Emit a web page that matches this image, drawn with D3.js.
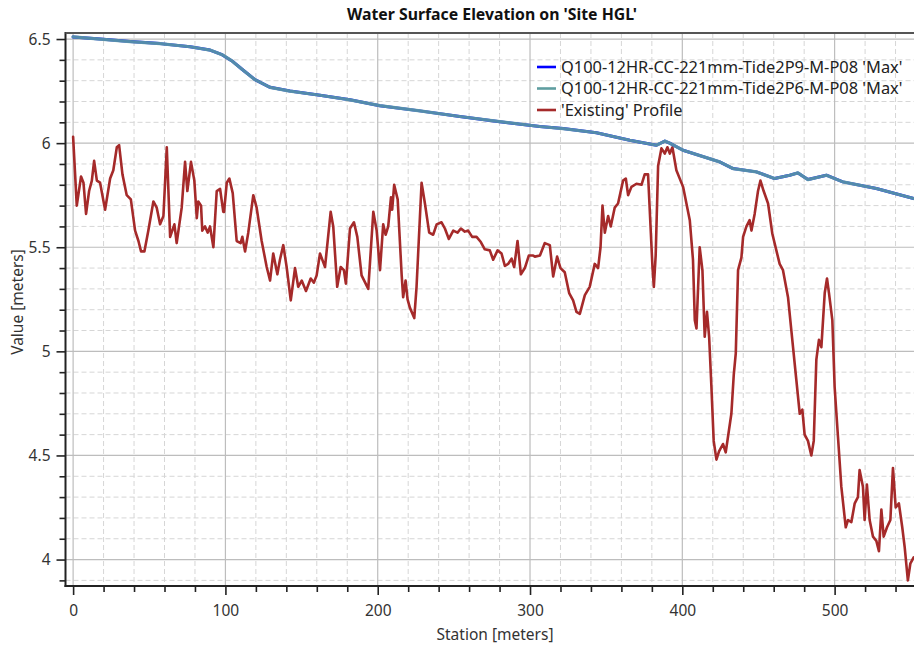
<!DOCTYPE html>
<html>
<head>
<meta charset="utf-8">
<script src="https://cdn.jsdelivr.net/npm/d3@7/dist/d3.min.js"></script>
<style>
  html, body { margin: 0; padding: 0; background: #fff; }
  svg { display: block; font-family: "Noto Sans", "Open Sans", sans-serif; }
</style>
</head>
<body>
<svg id="chart" width="914" height="648"></svg>
<script>
// ---- data -------------------------------------------------------------
const chartTitle = "Water Surface Elevation on 'Site HGL'";
const xTitle = "Station [meters]";
const yTitle = "Value [meters]";
const seriesNames = [
  "Q100-12HR-CC-221mm-Tide2P9-M-P08 'Max'",
  "Q100-12HR-CC-221mm-Tide2P6-M-P08 'Max'",
  "'Existing' Profile"
];
const seriesColors = ["#0000ff", "#5f9ea0", "#a52a2a"];

const xTickValues = [0, 100, 200, 300, 400, 500];
const yTickValues = [4, 4.5, 5, 5.5, 6, 6.5];

// Hydraulic grade line (max) along the reach
const hglStation = [0, 17.7, 37.4, 57.1, 76.8, 89.9, 97.8, 104.3, 110.9, 119.4, 129.3,
  142.4, 162.1, 181.8, 201.4, 227.7, 253.9, 280.2, 306.4, 321.7, 343.6, 365.5, 383.0,
  388.5, 391.7, 400.5, 424.5, 433.3, 448.6, 460.6, 470.5, 475.9, 482.5, 494.6, 505.4,
  527.4, 551.9];
const p9Values = [6.51, 6.50, 6.488, 6.478, 6.463, 6.447, 6.425, 6.395, 6.355, 6.305, 6.268,
  6.25, 6.23, 6.208, 6.18, 6.155, 6.128, 6.103, 6.08, 6.07, 6.05, 6.014, 5.99,
  6.01, 6.00, 5.966, 5.91, 5.878, 5.862, 5.83, 5.846, 5.857, 5.825, 5.846, 5.814,
  5.782, 5.734];
// the P6 run sits on top of the P9 run at this scale
const p6Values = p9Values.slice();

// Existing ground / surface profile
const existStation = [0, 2.4, 5.2, 6.8, 8.5, 10.5, 12.3, 13.8, 15.6, 17.7, 21.0, 24.3,
  26.4, 28.7, 30.2, 32.4, 35.2, 37.9, 40.7, 42.9, 44.6, 46.8, 49.4, 52.7, 54.9, 57.1,
  59.3, 61.5, 63.7, 66.5, 68.0, 71.3, 73.5, 75.0, 77.4, 79.6, 81.2, 82.2, 84.0, 84.8,
  86.6, 88.4, 89.9, 92.1, 94.3, 96.5, 98.6, 99.1, 100.9, 102.6, 104.8, 107.4, 110.0,
  111.1, 112.9, 115.0, 118.3, 120.5, 123.8, 127.1, 129.3, 131.4, 134.1, 135.8, 138.0,
  140.2, 142.9, 145.7, 147.8, 150.1, 152.9, 156.0, 158.1, 159.9, 162.1, 165.4, 169.1,
  170.8, 173.4, 175.7, 177.8, 179.1, 181.8, 184.4, 186.6, 189.4, 193.8, 197.1, 199.3,
  201.5, 203.6, 205.2, 206.9, 208.7, 209.5, 210.8, 213.1, 215.7, 216.7, 218.3, 219.6,
  221.1, 224.0, 225.5, 228.8, 231.0, 233.8, 236.4, 238.7, 241.9, 244.1, 246.7, 249.6,
  252.4, 254.6, 257.2, 259.4, 262.0, 264.9, 267.7, 270.3, 273.6, 275.8, 278.7, 281.3,
  283.5, 285.6, 287.9, 289.6, 291.8, 294.0, 296.6, 299.2, 302.1, 303.2, 306.5, 309.7,
  313.0, 315.2, 317.8, 320.0, 322.8, 325.7, 328.3, 330.5, 332.7, 336.0, 339.2, 342.5,
  344.7, 346.3, 347.6, 349.1, 351.3, 353.0, 355.6, 357.8, 361.1, 362.9, 364.4, 366.6,
  369.9, 373.2, 375.3, 377.5, 380.4, 381.3, 382.5, 384.1, 386.3, 388.5, 390.2, 391.8,
  393.5, 396.1, 400.5, 404.9, 407.0, 408.2, 409.3, 411.4, 413.2, 414.7, 416.2, 417.6,
  419.1, 420.6, 422.4, 424.1, 426.7, 428.5, 430.0, 432.2, 433.8, 435.1, 436.6, 438.8,
  439.9, 442.1, 444.2, 445.4, 447.5, 449.7, 451.3, 453.4, 456.3, 459.1, 463.9, 466.1,
  469.4, 471.6, 474.9, 477.1, 478.8, 480.3, 482.5, 484.7, 486.3, 488.0, 489.7, 491.3,
  493.5, 495.0, 496.3, 498.5, 500.0, 502.2, 504.4, 507.3, 508.8, 511.0, 513.2, 515.3,
  516.4, 518.6, 519.7, 521.2, 523.0, 525.2, 527.4, 529.1, 530.7, 532.2, 534.4, 536.6,
  538.3, 540.1, 542.2, 544.4, 546.0, 548.1, 549.7, 551.9];
const existValue = [6.03, 5.70, 5.84, 5.81, 5.66, 5.77, 5.82, 5.915, 5.82, 5.81, 5.68, 5.83,
  5.87, 5.98, 5.99, 5.85, 5.75, 5.73, 5.58, 5.53, 5.48, 5.48, 5.58, 5.72, 5.69, 5.61,
  5.65, 5.98, 5.55, 5.61, 5.52, 5.69, 5.91, 5.77, 5.91, 5.82, 5.64, 5.72, 5.70, 5.58,
  5.60, 5.57, 5.60, 5.50, 5.77, 5.78, 5.67, 5.67, 5.81, 5.83, 5.76, 5.53, 5.52,
  5.55, 5.48, 5.57, 5.75, 5.69, 5.53, 5.405, 5.34, 5.47, 5.37, 5.44, 5.51,
  5.405, 5.245, 5.40, 5.31, 5.34, 5.29, 5.35, 5.33, 5.365, 5.47, 5.405, 5.67,
  5.60, 5.31, 5.405, 5.39, 5.325, 5.59, 5.62, 5.55, 5.365, 5.30, 5.67, 5.58,
  5.39, 5.61, 5.56, 5.60, 5.74, 5.68, 5.80, 5.73, 5.37, 5.26, 5.34, 5.25,
  5.21, 5.16, 5.31, 5.81, 5.71, 5.57, 5.56, 5.61, 5.62, 5.59, 5.54, 5.58,
  5.57, 5.59, 5.575, 5.58, 5.55, 5.55, 5.525, 5.49, 5.485, 5.44, 5.485, 5.47,
  5.41, 5.42, 5.445, 5.405, 5.53, 5.37, 5.40, 5.46, 5.46, 5.455, 5.46, 5.52,
  5.51, 5.36, 5.455, 5.40, 5.38, 5.28, 5.245, 5.19, 5.18, 5.27, 5.31, 5.42,
  5.40, 5.50, 5.70, 5.57, 5.65, 5.60, 5.69, 5.71, 5.82, 5.83, 5.75, 5.79,
  5.805, 5.80, 5.85, 5.85, 5.405, 5.31, 5.46, 5.89, 5.975, 5.95, 5.98, 5.95,
  5.98, 5.87, 5.79, 5.63, 5.44, 5.15, 5.11, 5.50, 5.39, 5.07, 5.19, 5.07,
  4.83, 4.57, 4.48, 4.52, 4.555, 4.515, 4.59, 4.70, 4.89, 4.99, 5.39, 5.45,
  5.55, 5.60, 5.63, 5.58, 5.66, 5.77, 5.82, 5.77, 5.71, 5.565, 5.42, 5.39,
  5.26, 5.10, 4.86, 4.70, 4.72, 4.60, 4.57, 4.50, 4.57, 4.96, 5.055, 5.02,
  5.28, 5.35, 5.28, 5.15, 4.83, 4.59, 4.35, 4.155, 4.19, 4.18, 4.27, 4.30,
  4.43, 4.35, 4.19, 4.36, 4.19, 4.11, 4.09, 4.04, 4.24, 4.11, 4.155, 4.19,
  4.44, 4.25, 4.27, 4.155, 4.06, 3.90, 3.98, 4.01];

// ---- layout -----------------------------------------------------------
const svg = d3.select("#chart");
const W = 914, H = 648;
const plot = { left: 65.5, top: 33, bottom: 586, right: 926 };

const x = d3.scaleLinear().domain([-5, 560]).range([plot.left, plot.right]);
const y = d3.scaleLinear().domain([3.873, 6.529]).range([plot.bottom, plot.top]);

svg.append("rect").attr("width", W).attr("height", H).attr("fill", "#fff");

svg.append("defs").append("clipPath").attr("id", "plotClip")
  .append("rect")
  .attr("x", plot.left).attr("y", plot.top)
  .attr("width", plot.right - plot.left).attr("height", plot.bottom - plot.top);

// ---- grid -------------------------------------------------------------
const xMinor = d3.range(0, 561, 20).filter(v => v % 100 !== 0);
const yMinor = d3.range(39, 66).map(v => v / 10).filter(v => Math.abs(v * 2 - Math.round(v * 2)) > 1e-6);

const grid = svg.append("g").attr("clip-path", "url(#plotClip)");
grid.selectAll(".vminor").data(xMinor).join("line")
  .attr("x1", d => x(d)).attr("x2", d => x(d))
  .attr("y1", plot.top).attr("y2", plot.bottom)
  .attr("stroke", "#d6d6d6").attr("stroke-width", 1).attr("stroke-dasharray", "5,3");
grid.selectAll(".hminor").data(yMinor).join("line")
  .attr("y1", d => y(d)).attr("y2", d => y(d))
  .attr("x1", plot.left).attr("x2", plot.right)
  .attr("stroke", "#d6d6d6").attr("stroke-width", 1).attr("stroke-dasharray", "5,3");
grid.selectAll(".vmajor").data(xTickValues).join("line")
  .attr("x1", d => x(d)).attr("x2", d => x(d))
  .attr("y1", plot.top).attr("y2", plot.bottom)
  .attr("stroke", "#bdbdbd").attr("stroke-width", 1.2);
grid.selectAll(".hmajor").data(yTickValues).join("line")
  .attr("y1", d => y(d)).attr("y2", d => y(d))
  .attr("x1", plot.left).attr("x2", plot.right)
  .attr("stroke", "#bdbdbd").attr("stroke-width", 1.2);

// ---- series -----------------------------------------------------------
const line = d3.line().x(d => x(d[0])).y(d => y(d[1]));
const lines = svg.append("g").attr("clip-path", "url(#plotClip)")
  .attr("fill", "none").attr("stroke-linejoin", "round").attr("stroke-linecap", "round");

lines.append("path")
  .attr("d", line(d3.zip(existStation, existValue)))
  .attr("stroke", seriesColors[2]).attr("stroke-width", 2.6);
lines.append("path")
  .attr("d", line(d3.zip(hglStation, p9Values)))
  .attr("stroke", seriesColors[0]).attr("stroke-width", 3);
lines.append("path")
  .attr("d", line(d3.zip(hglStation, p6Values)))
  .attr("stroke", seriesColors[1]).attr("stroke-opacity", 0.88).attr("stroke-width", 3.2);

// ---- axes -------------------------------------------------------------
const tickFont = 15.5;
const xAxisMinor = d3.axisBottom(x).tickValues(xMinor).tickSize(6).tickFormat("");
const xAxis = d3.axisBottom(x).tickValues(xTickValues).tickSize(9).tickPadding(10)
  .tickFormat(d3.format("d"));
const yAxisMinor = d3.axisLeft(y).tickValues(yMinor).tickSize(6).tickFormat("");
const yAxis = d3.axisLeft(y).tickValues(yTickValues).tickSize(9).tickPadding(6)
  .tickFormat(d => d3.format("")(d));

function styleAxis(g) {
  g.select(".domain").remove();
  g.selectAll("line").attr("stroke", "#222").attr("stroke-width", 1.6);
  g.selectAll("text").attr("fill", "#333").attr("font-size", tickFont)
    .attr("font-family", "'Noto Sans', 'Open Sans', sans-serif");
}

svg.append("g").attr("transform", `translate(0,${plot.bottom})`).call(xAxisMinor).call(styleAxis);
svg.append("g").attr("transform", `translate(0,${plot.bottom})`).call(xAxis).call(styleAxis);
svg.append("g").attr("transform", `translate(${plot.left},0)`).call(yAxisMinor).call(styleAxis);
svg.append("g").attr("transform", `translate(${plot.left},0)`).call(yAxis).call(styleAxis);

// frame: axis lines on left/bottom, darker border on top
svg.append("line").attr("x1", plot.left).attr("x2", plot.left)
  .attr("y1", plot.top - 1).attr("y2", plot.bottom + 1)
  .attr("stroke", "#222").attr("stroke-width", 2);
svg.append("line").attr("x1", plot.left - 1).attr("x2", W)
  .attr("y1", plot.bottom).attr("y2", plot.bottom)
  .attr("stroke", "#222").attr("stroke-width", 2);
svg.append("line").attr("x1", plot.left).attr("x2", W)
  .attr("y1", plot.top).attr("y2", plot.top)
  .attr("stroke", "#555").attr("stroke-width", 2);

// ---- titles -----------------------------------------------------------
svg.append("text")
  .attr("x", 492).attr("y", 20)
  .attr("text-anchor", "middle")
  .attr("font-size", 15.5).attr("font-weight", "bold")
  .attr("font-family", "'Liberation Sans Narrow', 'Noto Sans', sans-serif")
  .attr("textLength", 290).attr("lengthAdjust", "spacingAndGlyphs")
  .attr("fill", "#111")
  .text(chartTitle);

svg.append("text")
  .attr("x", 495).attr("y", 640)
  .attr("text-anchor", "middle").attr("font-size", 15.5).attr("fill", "#333")
  .text(xTitle);

svg.append("text")
  .attr("transform", "translate(23,302) rotate(-90)")
  .attr("text-anchor", "middle").attr("font-size", 15.5).attr("fill", "#333")
  .text(yTitle);

// ---- legend -----------------------------------------------------------
const legend = svg.append("g").attr("transform", "translate(537,67)");
const rows = legend.selectAll("g").data(seriesNames).join("g")
  .attr("transform", (d, i) => `translate(0,${i * 21.5})`);
rows.append("line").attr("x1", 0).attr("x2", 19).attr("y1", 0).attr("y2", 0)
  .attr("stroke", (d, i) => seriesColors[i]).attr("stroke-width", 2.6);
rows.append("text").attr("x", 24).attr("y", 5.8)
  .attr("font-size", 16.4).attr("fill", "#222")
  .text(d => d);
</script>
</body>
</html>
